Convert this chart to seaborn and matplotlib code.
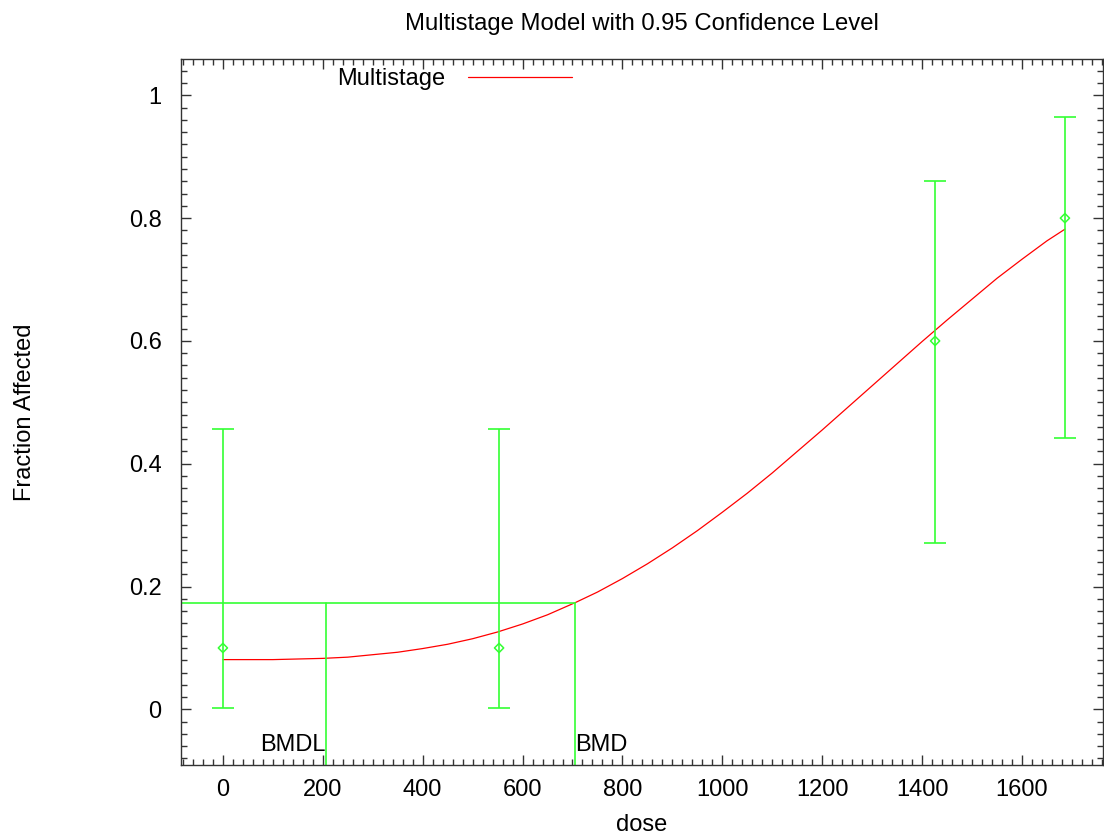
# Multistage dose-response chart (BMDS style)

import numpy as np
import pandas as pd
import matplotlib as mpl
mpl.use('Agg')
import matplotlib.pyplot as plt
from matplotlib.ticker import MultipleLocator, FuncFormatter
import seaborn as sns

# Observed data
dose = [0, 553, 1426, 1686]
frac_affected = [0.1, 0.1, 0.6, 0.8]
ci_lower = [0.003, 0.003, 0.271, 0.442]
ci_upper = [0.457, 0.457, 0.861, 0.964]

# Fitted multistage curve
curve_dose = [0, 50, 100, 150, 200, 250, 300, 350, 400, 450, 500, 550, 600,
              650, 706, 750, 800, 850, 900, 950, 1000, 1050, 1100, 1150, 1200,
              1250, 1300, 1350, 1400, 1450, 1500, 1550, 1600, 1650, 1686]
curve_frac = [0.081, 0.081, 0.081, 0.082, 0.083, 0.085, 0.089, 0.093, 0.099,
              0.106, 0.115, 0.126, 0.139, 0.154, 0.174, 0.191, 0.213, 0.237,
              0.263, 0.291, 0.321, 0.352, 0.385, 0.420, 0.455, 0.491, 0.527,
              0.563, 0.599, 0.634, 0.668, 0.702, 0.733, 0.763, 0.782]

# Benchmark values
bmr_level = 0.1736
bmdl = 206
bmd = 706

green = '#33ff33'
red = '#ff0000'

sns.set_theme(style = 'ticks')
plt.rcParams['font.family'] = ['Liberation Sans', 'DejaVu Sans']
plt.rcParams['font.size'] = 17
plt.rcParams['text.color'] = 'black'
plt.rcParams['axes.labelcolor'] = 'black'
plt.rcParams['xtick.labelcolor'] = 'black'
plt.rcParams['ytick.labelcolor'] = 'black'

obs_df = pd.DataFrame({'dose': dose, 'frac': frac_affected})
curve_df = pd.DataFrame({'dose': curve_dose, 'frac': curve_frac})

fig = plt.figure(figsize = (11.04, 8.38), dpi = 100)
ax = fig.add_axes([0.1639, 0.0867, 0.8351, 0.8425])

# Model curve
sns.lineplot(ax = ax, data = curve_df, x = 'dose', y = 'frac',
             color = red, linewidth = 0.9, label = 'Multistage')

# Confidence bars
ax.errorbar(dose, frac_affected,
            yerr = [np.array(frac_affected) - np.array(ci_lower),
                    np.array(ci_upper) - np.array(frac_affected)],
            fmt = 'none', ecolor = green, elinewidth = 1.2,
            capsize = 8, capthick = 1.2, zorder = 3)

# Observed points
sns.scatterplot(ax = ax, data = obs_df, x = 'dose', y = 'frac',
                marker = 'D', s = 22, facecolor = 'none',
                edgecolor = green, linewidth = 1.1, zorder = 4)

xlim = (-84, 1762)
ylim = (-0.0912, 1.0586)

# BMR / BMD / BMDL lines
ax.plot([xlim[0], bmd], [bmr_level, bmr_level], color = green, linewidth = 1.2)
ax.plot([bmdl, bmdl], [ylim[0], bmr_level], color = green, linewidth = 1.2)
ax.plot([bmd, bmd], [ylim[0], bmr_level], color = green, linewidth = 1.2)
ax.text(bmdl, -0.058, 'BMDL', ha = 'right', va = 'center', fontsize = 17, color = 'black')
ax.text(bmd, -0.058, 'BMD', ha = 'left', va = 'center', fontsize = 17, color = 'black')

ax.set_xlim(xlim)
ax.set_ylim(ylim)

ax.xaxis.set_major_locator(MultipleLocator(200))
ax.xaxis.set_minor_locator(MultipleLocator(20))
ax.yaxis.set_major_locator(MultipleLocator(0.2))
ax.yaxis.set_minor_locator(MultipleLocator(0.02))
ax.yaxis.set_major_formatter(FuncFormatter(lambda v, p: '%g' % round(v, 2)))

ax.tick_params(which = 'both', direction = 'in', top = True, right = True,
               color = '#333333', width = 1.0)
ax.tick_params(which = 'major', length = 7)
ax.tick_params(which = 'minor', length = 4)
ax.tick_params(axis = 'x', which = 'major', pad = 10, labelsize = 17)
ax.tick_params(axis = 'y', which = 'major', pad = 14, labelsize = 17)

for spine in ax.spines.values():
    spine.set_visible(True)
    spine.set_color('#333333')
    spine.set_linewidth(1.0)

ax.set_title('Multistage Model with 0.95 Confidence Level', fontsize = 17.2,
             pad = 21, color = 'black')
ax.set_xlabel('dose', fontsize = 17, labelpad = 9)
ax.set_ylabel('Fraction Affected', fontsize = 17)
ax.yaxis.set_label_coords(-0.157, 0.5)

leg = ax.legend(loc = 'upper left', bbox_to_anchor = (0.169, 0.988),
                frameon = False, markerfirst = False, borderpad = 0,
                borderaxespad = 0, handlelength = 4.4, handletextpad = 1.0,
                fontsize = 17)
for t in leg.get_texts():
    t.set_color('black')

fig.savefig('out.png', dpi = 100)
plt.close()
